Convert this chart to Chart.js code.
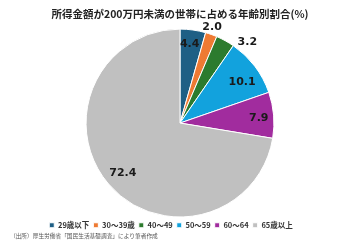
<!DOCTYPE html>
<html><head><meta charset="utf-8">
<script src="https://cdn.jsdelivr.net/npm/chart.js@4"></script>
<style>
html,body{margin:0;padding:0;background:#fff;}
#wrap{position:relative;width:360px;height:241px;}
#src{position:absolute;left:10px;top:231px;font:5.7px "Noto Sans CJK JP";color:#555;white-space:nowrap;}
</style></head>
<body><div id="wrap"><canvas id="c" width="360" height="241"></canvas><div id="src">（出所）厚生労働省「国民生活基礎調査」により筆者作成</div></div>
<script>
const titleText = '所得金額が200万円未満の世帯に占める年齢別割合(%)';
const categories = ['29歳以下','30～39歳','40～49','50～59','60～64','65歳以上'];
const values = [4.4, 2.0, 3.2, 10.1, 7.9, 72.4];
const colors = ['#1E5F85','#EE7A33','#2C7B2E','#12A2DD','#A12C9E','#C0C0C0'];
// label placement: radius factor and angle offset (deg)
const labelPos = [[0.85,-1],[1.08,-1],[1.12,11],[0.79,4],[0.84,1],[0.81,-1]];

const labelPlugin = {
  id:'sliceLabels',
  beforeDraw(chart){
    if(chart.legend && !chart.legend._shifted){chart.legend.left-=9;chart.legend.right-=9;chart.legend._shifted=true;}
  },
  afterUpdate(chart){ if(chart.legend) chart.legend._shifted=false; },
  afterDatasetsDraw(chart){
    const ctx = chart.ctx;
    const meta = chart.getDatasetMeta(0);
    ctx.save();
    ctx.font = 'bold 11px "DejaVu Sans"';
    ctx.fillStyle = '#1a1a1a';
    ctx.textAlign='center'; ctx.textBaseline='middle';
    meta.data.forEach((arc,i)=>{
      const p = arc.getProps(['x','y','startAngle','endAngle','outerRadius'],true);
      const a = (p.startAngle+p.endAngle)/2 + labelPos[i][1]*Math.PI/180;
      const r = p.outerRadius*labelPos[i][0];
      ctx.fillText(values[i].toFixed(1), p.x+Math.cos(a)*r, p.y+Math.sin(a)*r);
    });
    ctx.restore();
  }
};

new Chart(document.getElementById('c'),{
  type:'pie',
  data:{labels:categories,datasets:[{data:values,backgroundColor:colors,borderColor:'#fff',borderWidth:1}]},
  options:{
    responsive:false,animation:false,
    layout:{padding:{top:2,bottom:2}},
    plugins:{
      title:{display:true,text:titleText,font:{family:'"Noto Sans CJK JP"',size:10.5,weight:'bold'},color:'#222',padding:{top:6,bottom:8}},
      legend:{position:'bottom',labels:{boxWidth:5,boxHeight:5,padding:4,color:'#333',font:{family:'"Noto Sans CJK JP"',size:7.5,weight:'bold'}}},
      tooltip:{enabled:false}
    }
  },
  plugins:[labelPlugin]
});
</script></body></html>
